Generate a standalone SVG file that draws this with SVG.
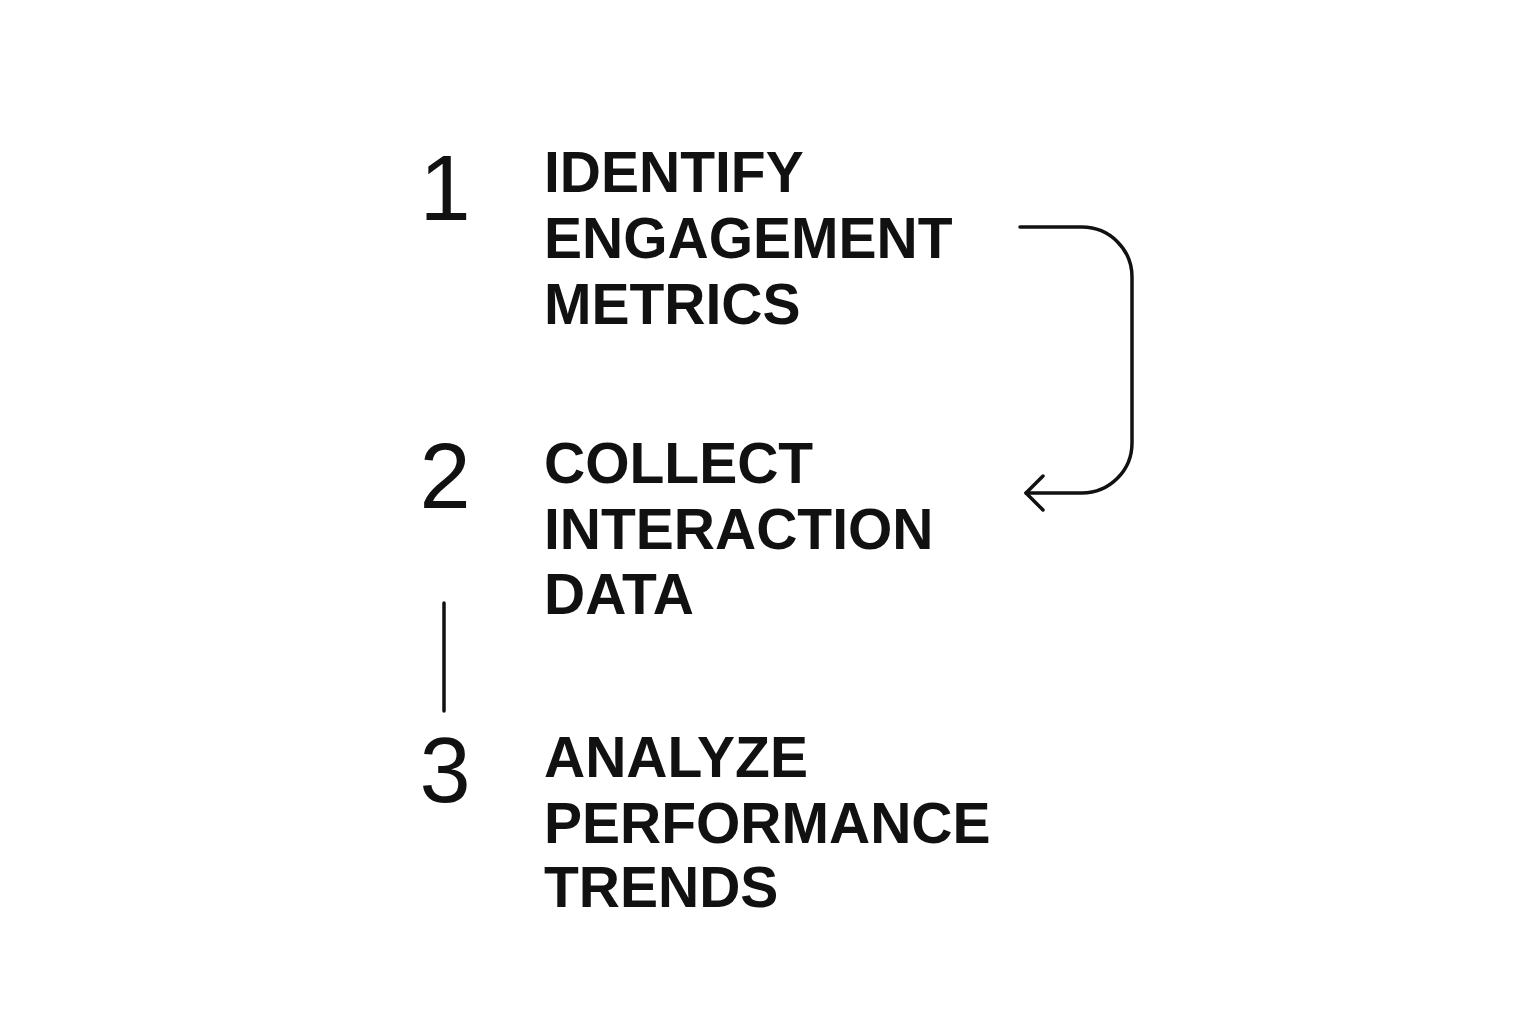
<svg xmlns="http://www.w3.org/2000/svg" width="1536" height="1024" viewBox="0 0 1536 1024">
<style>
.t{font-family:"Liberation Sans",Arial,sans-serif;font-weight:bold;font-size:57px;fill:#111}
.n{font-family:"Liberation Sans",Arial,sans-serif;font-size:92px;fill:#111;text-anchor:middle}
.c{fill:none;stroke:#111;stroke-width:3.5;stroke-linecap:round;stroke-linejoin:round}
</style>
<rect width="1536" height="1024" fill="#fff"/>
<g id="step1"><text class="n" x="445" y="220">1</text>
<text class="t" x="544" y="192">IDENTIFY</text><text class="t" x="544" y="258">ENGAGEMENT</text><text class="t" x="544" y="324">METRICS</text></g>
<g id="step2"><text class="n" x="445" y="508">2</text>
<text class="t" x="544" y="483">COLLECT</text><text class="t" x="544" y="549">INTERACTION</text><text class="t" x="544" y="614">DATA</text></g>
<g id="step3"><text class="n" x="445" y="802">3</text>
<text class="t" x="544" y="777">ANALYZE</text><text class="t" x="544" y="843">PERFORMANCE</text><text class="t" x="544" y="907">TRENDS</text></g>
<g id="connectors">
<path class="c" d="M1020 227 H1082 A50 50 0 0 1 1132 277 V443 A50 50 0 0 1 1082 493 H1026"/>
<path class="c" d="M1043 476 L1026 493 L1043 510"/>
<line class="c" x1="444" y1="603" x2="444" y2="711"/>
</g>
</svg>
